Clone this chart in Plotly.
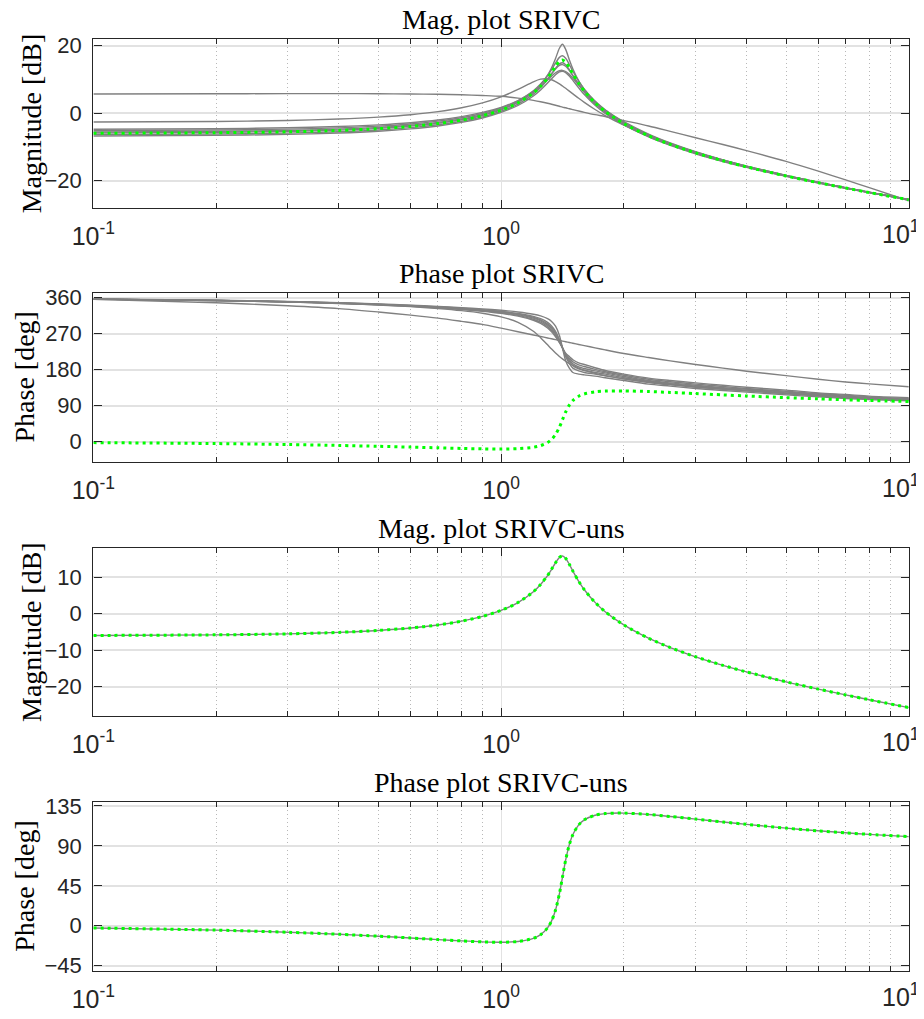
import plotly.graph_objects as go

# ---------------- data ----------------
freq = [0.1, 0.2, 0.3, 0.4, 0.5, 0.6, 0.7, 0.8, 0.9, 1.0,
        1.1, 1.2, 1.25, 1.3, 1.33, 1.36, 1.39, 1.414, 1.44, 1.47,
        1.5, 1.55, 1.6, 1.7, 1.8, 2.0, 2.3, 2.6, 3.0, 3.5,
        4.0, 5.0, 6.0, 7.0, 8.0, 10.0]

# true system (green dotted)
true_mag = [-5.97, -5.80, -5.53, -5.13, -4.60, -3.93, -3.10, -2.06, -0.76, 0.88,
            3.03, 5.99, 7.96, 10.40, 12.11, 13.90, 15.35, 15.74, 15.10, 13.48,
            11.62, 8.82, 6.53, 3.07, 0.53, -3.10, -6.73, -9.28, -11.80, -14.14,
            -15.94, -18.64, -20.63, -22.22, -23.55, -25.68]
true_phase = [-2.46, -4.88, -7.26, -9.55, -11.72, -13.74, -15.54, -17.05, -18.12, -18.52,
              -17.67, -14.10, -10.01, -2.35, 5.52, 17.75, 36.14, 54.57, 74.12, 91.43,
              102.82, 113.65, 119.34, 124.52, 126.41, 126.95, 125.36, 123.15, 120.22, 116.98,
              114.26, 110.04, 107.00, 104.74, 102.99, 100.48]

# SRIVC estimates (gray) - magnitude [dB]
srivc_mag_1 = [-5.87, -5.70, -5.43, -5.03, -4.51, -3.84, -3.01, -1.97, -0.68, 1.00,
               3.22, 6.31, 8.45, 11.28, 13.49, 16.23, 19.25, 20.44, 18.93, 15.84,
               13.08, 9.59, 7.01, 3.33, 0.70, -3.05, -6.68, -9.24, -11.77, -14.11,
               -15.92, -18.62, -20.62, -22.21, -23.54, -25.67]
srivc_mag_2 = [-5.17, -5.01, -4.74, -4.36, -3.85, -3.20, -2.38, -1.37, -0.09, 1.52,
               3.67, 6.63, 8.63, 11.14, 12.94, 14.88, 16.54, 17.01, 16.27, 14.44,
               12.43, 9.48, 7.11, 3.58, 1.00, -2.70, -6.38, -8.98, -11.55, -13.94,
               -15.78, -18.52, -20.55, -22.16, -23.50, -25.65]
srivc_mag_3 = [-6.37, -6.20, -5.92, -5.51, -4.98, -4.30, -3.45, -2.40, -1.09, 0.56,
               2.70, 5.65, 7.59, 9.98, 11.62, 13.30, 14.62, 14.96, 14.38, 12.89,
               11.15, 8.45, 6.21, 2.80, 0.29, -3.30, -6.90, -9.43, -11.92, -14.24,
               -16.02, -18.69, -20.67, -22.25, -23.57, -25.69]
srivc_mag_4 = [-5.57, -5.41, -5.13, -4.75, -4.23, -3.57, -2.74, -1.71, -0.43, 1.20,
               3.27, 6.12, 7.98, 10.20, 11.68, 13.11, 14.17, 14.41, 13.92, 12.67,
               11.14, 8.65, 6.51, 3.17, 0.67, -2.90, -6.55, -9.13, -11.68, -14.04,
               -15.86, -18.58, -20.59, -22.19, -23.52, -25.66]
srivc_mag_5 = [-6.76, -6.60, -6.31, -5.90, -5.36, -4.67, -3.81, -2.75, -1.43, 0.24,
               2.27, 5.09, 6.86, 8.92, 10.22, 11.42, 12.25, 12.42, 12.03, 11.02,
               9.72, 7.51, 5.52, 2.35, -0.07, -3.50, -7.07, -9.58, -12.05, -14.33,
               -16.10, -18.75, -20.71, -22.28, -23.59, -25.71]
srivc_mag_6 = [-4.77, -4.61, -4.35, -3.98, -3.47, -2.83, -2.03, -1.02, 0.24, 1.72,
               3.73, 6.38, 8.03, 9.87, 10.99, 11.98, 12.60, 12.70, 12.36, 11.50,
               10.37, 8.35, 6.47, 3.37, 0.95, -2.50, -6.21, -8.83, -11.43, -13.84,
               -15.70, -18.47, -20.51, -22.13, -23.47, -25.63]
srivc_mag_7 = [-2.63, -2.46, -2.17, -1.75, -1.18, -0.46, 0.46, 1.60, 3.04, 4.84,
               7.03, 9.31, 10.08, 10.19, 9.90, 9.38, 8.70, 8.07, 7.37, 6.54,
               5.72, 4.41, 3.21, 1.09, -0.71, -3.57, -6.75, -9.14, -11.58, -13.90,
               -15.72, -18.46, -20.50, -22.11, -23.46, -25.62]
srivc_mag_8 = [5.70, 5.75, 5.80, 5.80, 5.75, 5.70, 5.60, 5.45, 5.25, 5.00,
               4.45, 3.80, 3.40, 2.95, 2.65, 2.35, 2.05, 1.80, 1.60, 1.30,
               1.05, 0.65, 0.25, -0.45, -1.00, -2.20, -3.80, -5.40, -7.30, -9.30,
               -11.10, -14.30, -17.20, -19.80, -22.10, -26.00]

# SRIVC estimates (gray) - phase [deg]
srivc_ph_1 = [356.90, 353.80, 350.72, 347.66, 344.61, 341.56, 338.51, 335.40, 332.18, 328.69,
              324.60, 318.95, 314.66, 307.79, 300.85, 288.89, 265.68, 235.03, 202.63, 184.0,
              173.0, 169.0, 167.0, 164.0, 160.0, 153.0, 144.0, 139.0, 133.0, 128.0,
              124.0, 117.0, 112.0, 108.0, 105.0, 102.0]
srivc_ph_2 = [356.76, 353.53, 350.30, 347.07, 343.84, 340.58, 337.26, 333.83, 330.16, 326.03,
              320.93, 313.47, 307.62, 298.38, 289.57, 276.17, 255.79, 234.93, 212.79, 196.0,
              184.0, 177.0, 173.0, 169.0, 165.0, 157.0, 148.0, 142.0, 136.0, 131.0,
              127.0, 120.0, 114.0, 110.0, 107.0, 103.5]
srivc_ph_3 = [356.71, 353.41, 350.12, 346.82, 343.51, 340.16, 336.73, 333.16, 329.30, 324.90,
              319.39, 311.22, 304.80, 294.81, 285.58, 272.18, 253.24, 234.90, 215.43, 201.0,
              190.0, 182.0, 178.0, 173.0, 169.0, 160.0, 151.0, 145.0, 139.0, 133.0,
              129.0, 122.0, 116.0, 112.0, 108.5, 105.0]
srivc_ph_4 = [356.65, 353.30, 349.94, 346.57, 343.18, 339.74, 336.20, 332.49, 328.45, 323.79,
              317.87, 309.02, 302.09, 291.49, 282.00, 268.83, 251.23, 234.88, 217.52, 205.0,
              195.0, 187.0, 183.0, 177.0, 172.0, 163.0, 153.0, 147.0, 141.0, 135.0,
              131.0, 124.0, 118.0, 114.0, 110.0, 106.5]
srivc_ph_5 = [356.58, 353.15, 349.72, 346.26, 342.78, 339.22, 335.55, 331.66, 327.38, 322.40,
              316.00, 306.36, 298.87, 287.71, 278.08, 265.34, 249.26, 234.86, 219.56, 209.0,
              200.0, 192.0, 188.0, 181.0, 175.0, 166.0, 156.0, 150.0, 144.0, 138.0,
              133.0, 126.0, 120.0, 116.0, 112.0, 108.0]
srivc_ph_6 = [356.50, 353.00, 349.49, 345.95, 342.37, 338.70, 334.89, 330.83, 326.33, 321.03,
              314.16, 303.79, 295.85, 284.29, 274.68, 262.47, 247.72, 234.85, 221.17, 213.0,
              205.0, 197.0, 193.0, 185.0, 178.0, 169.0, 159.0, 153.0, 147.0, 141.0,
              136.0, 129.0, 122.0, 118.0, 114.0, 110.0]
srivc_ph_7 = [356.55, 353.08, 349.53, 345.86, 342.00, 337.85, 333.23, 327.87, 321.24, 312.28,
              298.73, 276.21, 260.28, 242.34, 231.70, 221.85, 213.12, 207.00, 201.20, 195.45,
              190.56, 183.92, 178.65, 170.83, 165.17, 157.20, 149.17, 143.34, 137.36, 131.62,
              127.12, 120.49, 115.79, 112.33, 109.66, 105.87]
srivc_ph_8 = [356.0, 347.5, 340.0, 333.0, 324.5, 316.5, 309.0, 301.0, 293.5, 284.0,
              275.0, 267.0, 263.2, 259.5, 257.4, 255.3, 253.3, 251.7, 250.0, 248.1,
              246.2, 243.2, 240.3, 234.7, 229.5, 220.5, 210.5, 202.0, 193.0, 184.0,
              176.3, 165.1, 156.0, 149.4, 144.5, 137.5]

# SRIVC-uns estimates (gray, coincide with the true system)
uns_mag = [-5.97, -5.80, -5.53, -5.13, -4.60, -3.93, -3.10, -2.06, -0.76, 0.88,
           3.03, 5.99, 7.96, 10.40, 12.11, 13.90, 15.35, 15.74, 15.10, 13.48,
           11.62, 8.82, 6.53, 3.07, 0.53, -3.10, -6.73, -9.28, -11.80, -14.14,
           -15.94, -18.64, -20.63, -22.22, -23.55, -25.68]
uns_phase = [-2.46, -4.88, -7.26, -9.55, -11.72, -13.74, -15.54, -17.05, -18.12, -18.52,
             -17.67, -14.10, -10.01, -2.35, 5.52, 17.75, 36.14, 54.57, 74.12, 91.43,
             102.82, 113.65, 119.34, 124.52, 126.41, 126.95, 125.36, 123.15, 120.22, 116.98,
             114.26, 110.04, 107.00, 104.74, 102.99, 100.48]

srivc_mag = [srivc_mag_1, srivc_mag_2, srivc_mag_3, srivc_mag_4,
             srivc_mag_5, srivc_mag_6, srivc_mag_7, srivc_mag_8]
srivc_phase = [srivc_ph_1, srivc_ph_2, srivc_ph_3, srivc_ph_4,
               srivc_ph_5, srivc_ph_6, srivc_ph_7, srivc_ph_8]

x_tickvals = [0.1, 1, 10]
x_ticktext = ["10<sup>-1</sup>", "10<sup>0</sup>", ""]   # last label drawn as annotation
x_last_label = "10<sup>1</sup>"
x_minor = [0.2, 0.3, 0.4, 0.5, 0.6, 0.7, 0.8, 0.9, 2, 3, 4, 5, 6, 7, 8, 9]

titles = ["Mag. plot SRIVC", "Phase plot SRIVC", "Mag. plot SRIVC-uns", "Phase plot SRIVC-uns"]
ylabels = ["Magnitude [dB]", "Phase [deg]", "Magnitude [dB]", "Phase [deg]"]
y_ticks = [[-20, 0, 20], [0, 90, 180, 270, 360], [-20, -10, 0, 10], [-45, 0, 45, 90, 135]]
y_ranges = [[-28.05, 22.0], [-51.0, 372.0], [-27.9, 17.85], [-50.6, 139.8]]

# ---------------- layout (pixels, page offset of 8 px removed) ----------------
OFF = 8
W, H = 924 - OFF, 1019 - OFF
x_left, x_right = 93.4 - OFF, 908.8 - OFF
plot_tops = [39.0 - OFF, 293.0 - OFF, 548.3 - OFF, 801.7 - OFF]
plot_bottoms = [207.7 - OFF, 462.0 - OFF, 715.7 - OFF, 970.7 - OFF]
ylabel_x = [31 - OFF, 24 - OFF, 31 - OFF, 24.5 - OFF]
last_label_right = 921 - OFF

GRAY = "#808080"
GREEN = "#00ff00"
AX = "#262626"

fig = go.Figure()


def add_line(i, x, y, color, width, dash=None):
    fig.add_trace(go.Scatter(
        x=x, y=y, mode="lines",
        line=dict(color=color, width=width, dash=dash, shape="spline", smoothing=0.8),
        xaxis="x" if i == 0 else f"x{i+1}",
        yaxis="y" if i == 0 else f"y{i+1}",
        showlegend=False, hoverinfo="skip"))


for m in srivc_mag:
    add_line(0, freq, m, GRAY, 1.4)
add_line(0, freq, true_mag, GREEN, 3, "3px,4px")
for p in srivc_phase:
    add_line(1, freq, p, GRAY, 1.4)
add_line(1, freq, true_phase, GREEN, 3, "3px,4px")
add_line(2, freq, uns_mag, GRAY, 1.4)
add_line(2, freq, true_mag, GREEN, 3, "3px,4px")
add_line(3, freq, uns_phase, GRAY, 1.4)
add_line(3, freq, true_phase, GREEN, 3, "3px,4px")

ytickfont = dict(family="Liberation Sans, Arial, sans-serif", size=22, color=AX)
xtickfont = dict(family="Liberation Sans, Arial, sans-serif", size=25, color=AX)
serif = "Liberation Serif, Times New Roman, serif"

layout = dict(width=W, height=H, margin=dict(l=0, r=0, t=0, b=0, autoexpand=False),
              paper_bgcolor="white", plot_bgcolor="white", showlegend=False)
annotations = []
for i in range(4):
    xs = "xaxis" if i == 0 else f"xaxis{i+1}"
    ys = "yaxis" if i == 0 else f"yaxis{i+1}"
    yd = [1 - plot_bottoms[i] / H, 1 - plot_tops[i] / H]
    layout[xs] = dict(
        type="log", range=[-1, 1], domain=[x_left / W, x_right / W],
        anchor="y" if i == 0 else f"y{i+1}", automargin=False,
        tickvals=x_tickvals, ticktext=x_ticktext, tickfont=xtickfont,
        ticks="inside", ticklen=8, tickwidth=1, tickcolor=AX,
        showline=True, linecolor=AX, linewidth=1.3, mirror="allticks",
        showgrid=True, gridcolor="#e2e2e2", gridwidth=1.2, zeroline=False,
        ticklabelstandoff=6, ticklabeloverflow="allow",
        minor=dict(tickvals=x_minor, ticks="inside", ticklen=5, tickcolor=AX,
                   showgrid=True, gridcolor="#b8b8b8", griddash="1px,3px", gridwidth=1))
    layout[ys] = dict(
        range=y_ranges[i], domain=yd,
        anchor="x" if i == 0 else f"x{i+1}", automargin=False,
        tickvals=y_ticks[i], tickfont=ytickfont,
        ticks="inside", ticklen=8, tickwidth=1, tickcolor=AX,
        showline=True, linecolor=AX, linewidth=1.3, mirror="allticks",
        showgrid=True, gridcolor="#e2e2e2", gridwidth=1.5, zeroline=False,
        ticklabelstandoff=6, ticklabeloverflow="allow")
    annotations.append(dict(
        text=titles[i], xref="paper", yref="paper",
        x=(x_left + x_right) / 2 / W, y=1 - (plot_tops[i] - 19.5) / H,
        xanchor="center", yanchor="middle", showarrow=False, borderpad=0,
        font=dict(family=serif, size=28, color="black")))
    annotations.append(dict(
        text=ylabels[i], xref="paper", yref="paper",
        x=ylabel_x[i] / W, y=1 - (plot_tops[i] + plot_bottoms[i]) / 2 / H,
        xanchor="center", yanchor="middle", textangle=-90, showarrow=False,
        font=dict(family=serif, size=28, color="black")))
    annotations.append(dict(
        text=x_last_label, xref="paper", yref="paper",
        x=last_label_right / W, y=1 - (plot_bottoms[i] + 7) / H,
        xanchor="right", yanchor="top", showarrow=False, borderpad=0,
        font=xtickfont))

layout["annotations"] = annotations
fig.update_layout(**layout)
fig.write_html("out.html")
